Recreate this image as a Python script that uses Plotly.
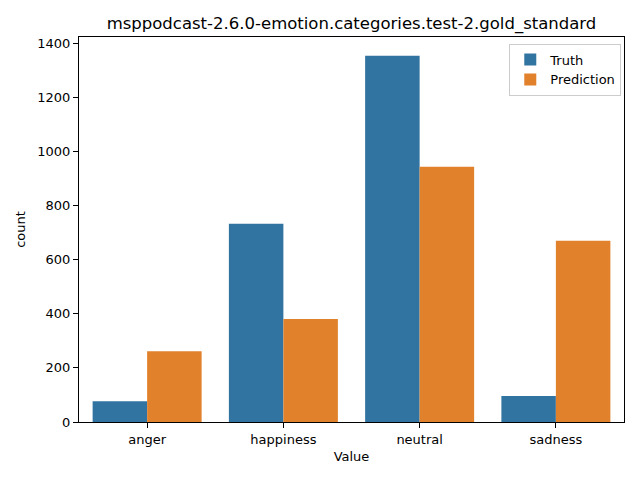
import plotly.graph_objects as go

categories = ['anger', 'happiness', 'neutral', 'sadness']
truth = [77, 733, 1355, 96]
prediction = [262, 381, 944, 670]

FONT = "DejaVu Sans"

axis_style = dict(
    showline=True,
    linecolor='black',
    linewidth=1,
    mirror=True,
    ticks='outside',
    ticklen=5,
    tickcolor='black',
    showgrid=False,
    zeroline=False,
    tickfont=dict(family=FONT, size=13, color='black'),
)

fig = go.Figure(
    data=[
        go.Bar(name='Truth', x=categories, y=truth, marker_color='#3274a1',
               marker_line_width=0),
        go.Bar(name='Prediction', x=categories, y=prediction, marker_color='#e1812c',
               marker_line_width=0),
    ]
)

# page body has an 8px margin, so the figure is 8px smaller on each axis
fig.update_layout(
    width=632,
    height=472,
    margin=dict(l=71, r=16, t=29, b=58),
    paper_bgcolor='white',
    plot_bgcolor='white',
    barmode='group',
    bargap=0.2,
    bargroupgap=0,
    title=dict(
        text='msppodcast-2.6.0-emotion.categories.test-2.gold_standard',
        xref='paper', x=0.5, xanchor='center', y=0.968, yanchor='middle',
        font=dict(family=FONT, size=16.5, color='black'),
    ),
    legend=dict(
        x=0.995, xanchor='right', y=0.983, yanchor='top',
        bgcolor='rgba(255,255,255,0.8)',
        bordercolor='#cccccc', borderwidth=1,
        itemwidth=30,
        font=dict(family=FONT, size=13, color='black'),
    ),
    xaxis=dict(axis_style, range=[-0.5, 3.5],
               title=dict(text='Value', font=dict(family=FONT, size=13, color='black'),
                          standoff=6)),
    yaxis=dict(axis_style, range=[0, 1424], tickvals=[0, 200, 400, 600, 800, 1000, 1200, 1400],
               title=dict(text='count', font=dict(family=FONT, size=13, color='black'),
                          standoff=8)),
)

fig.write_html("out.html")
